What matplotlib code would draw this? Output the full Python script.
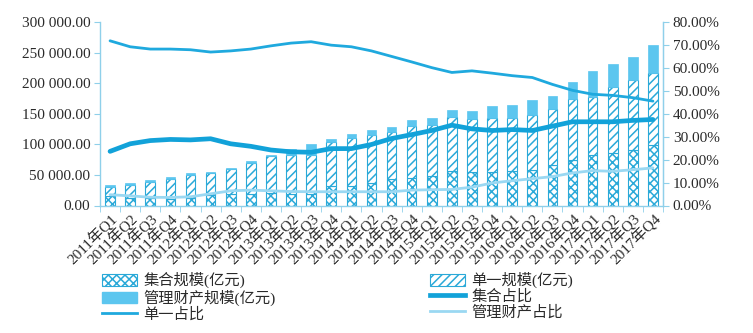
import matplotlib
matplotlib.use("Agg")
import matplotlib.pyplot as plt
from matplotlib.patches import Patch
from matplotlib.lines import Line2D
from matplotlib.ticker import FuncFormatter, FixedLocator
import numpy as np

years = ["2011", "2012", "2013", "2014", "2015", "2016", "2017"]
quarters = ["Q1", "Q2", "Q3", "Q4"]
categories = [f"{y}年{q}" for y in years for q in quarters]

# 集合规模 (亿元)
collective = [14750, 12020, 12020, 10930, 12020, 17480, 19120, 19120,
              20220, 18580, 18580, 31140, 32240, 36610, 43170, 44800,
              47540, 55730, 54090, 54640, 55730, 58460, 65570, 73760,
              83050, 85780, 91250, 99440]
# 单一规模 (亿元)
single = [15300, 20760, 26230, 32240, 38250, 34970, 39890, 50270,
          61200, 64480, 64480, 72670, 78140, 78140, 76500, 84690,
          84690, 89060, 87420, 88520, 87420, 90160, 92340, 100540,
          94530, 108190, 113650, 117480]
# 管理财产规模 (亿元)
managed = [2730, 3820, 2730, 2730, 2190, 1640, 2190, 3820,
           1640, 9290, 17480, 4370, 6010, 9290, 8740, 9840,
           10930, 11470, 12570, 19120, 20760, 23500, 21860, 27320,
           41530, 36610, 37700, 44800]

# 占比 (%)
single_pct = [71.8, 69.2, 68.2, 68.2, 67.9, 66.9, 67.4, 68.2,
              69.6, 70.8, 71.4, 69.9, 69.2, 67.4, 65.0, 62.6,
              60.1, 58.0, 58.7, 57.7, 56.6, 55.8, 52.8, 50.2,
              48.5, 48.0, 47.0, 45.5]
collective_pct = [23.6, 26.9, 28.3, 28.8, 28.6, 29.1, 26.9, 25.8,
                  24.2, 23.4, 23.2, 24.8, 24.8, 26.6, 29.2, 30.9,
                  32.7, 35.0, 33.4, 32.7, 33.1, 32.7, 34.6, 36.5,
                  36.5, 36.5, 37.1, 37.5]
managed_pct = [4.7, 4.2, 3.6, 3.5, 3.8, 5.1, 6.4, 6.7,
               6.4, 6.1, 6.0, 6.0, 6.0, 6.0, 6.0, 6.7,
               6.9, 7.0, 8.0, 9.8, 10.8, 11.7, 12.6, 14.2,
               15.2, 14.9, 15.6, 16.4]

serif_cjk = ["Liberation Serif", "Noto Sans CJK SC", "DejaVu Sans"]
plt.rcParams["font.family"] = serif_cjk
plt.rcParams["hatch.linewidth"] = 1.1

axis_col = "#8fd0ea"
hatch_col = "#2aa9d8"
cap_col = "#5cc6ef"
c_single = "#1fa9de"
c_coll = "#12a2d9"
c_man = "#9ad8f2"
text_col = "#2a2a2a"

fig = plt.figure(figsize=(7.53, 3.33), dpi=100)
ax = fig.add_axes([100 / 753, 1 - 205.5 / 333, 563 / 753, (205.5 - 22) / 333])

x = np.arange(len(categories))
coll = np.array(collective)
sing = np.array(single)
man = np.array(managed)
w = 0.48
ax.bar(x, coll, w, color="white", edgecolor=hatch_col, hatch="xxxx", linewidth=0.8, zorder=2)
ax.bar(x, sing, w, bottom=coll, color="white", edgecolor=hatch_col, hatch="////", linewidth=0.8, zorder=2)
ax.bar(x, man, w, bottom=coll + sing, color=cap_col, edgecolor=cap_col, linewidth=0.5, zorder=2)

ax.set_xlim(-0.5, len(categories) - 0.5)
ax.set_ylim(0, 300000)
ax.set_yticks(np.arange(0, 300001, 50000))
ax.yaxis.set_major_formatter(FuncFormatter(lambda v, p: f"{v:,.2f}".replace(",", " ")))
ax.set_xticks(x)
ax.set_xticklabels(categories, rotation=45, ha="right", rotation_mode="anchor",
                   fontsize=11, color=text_col)
ax.xaxis.set_minor_locator(FixedLocator(np.arange(-0.5, len(categories), 1.0)))
ax.tick_params(axis="x", which="major", length=0, pad=4)
ax.tick_params(axis="x", which="minor", length=4, color=axis_col, direction="out")
ax.tick_params(axis="y", length=4, color=axis_col, labelsize=11, labelcolor=text_col, pad=3)
for s in ["top"]:
    ax.spines[s].set_visible(False)
for s in ["left", "bottom", "right"]:
    ax.spines[s].set_color(axis_col)
    ax.spines[s].set_linewidth(1.0)

ax2 = ax.twinx()
ax2.plot(x, single_pct, color=c_single, lw=2.0, solid_capstyle="round", zorder=3)
ax2.plot(x, collective_pct, color=c_coll, lw=3.4, solid_capstyle="round", zorder=4)
ax2.plot(x, managed_pct, color=c_man, lw=2.0, solid_capstyle="round", zorder=3)
ax2.set_ylim(0, 80)
ax2.set_yticks(np.arange(0, 81, 10))
ax2.yaxis.set_major_formatter(FuncFormatter(lambda v, p: f"{v:.2f}%"))
ax2.tick_params(axis="y", length=4, color=axis_col, labelsize=11, labelcolor=text_col, pad=3)
for s in ["top", "left", "bottom"]:
    ax2.spines[s].set_visible(False)
ax2.spines["right"].set_color(axis_col)

h_coll = Patch(facecolor="white", edgecolor=hatch_col, hatch="xxxx", linewidth=0.8)
h_sing = Patch(facecolor="white", edgecolor=hatch_col, hatch="////", linewidth=0.8)
h_man = Patch(facecolor=cap_col, edgecolor=cap_col)
l_sing = Line2D([], [], color=c_single, lw=2.0)
l_coll = Line2D([], [], color=c_coll, lw=3.4)
l_man = Line2D([], [], color=c_man, lw=2.0)

leg_kw = dict(frameon=False, fontsize=11, handlelength=2.3, handleheight=0.8,
              handletextpad=0.4, labelspacing=0.1, borderaxespad=0, borderpad=0,
              labelcolor=text_col)
fig.legend([h_coll, h_man, l_sing], ["集合规模(亿元)", "管理财产规模(亿元)", "单一占比"],
           loc="upper left", bbox_to_anchor=(102 / 753, 1 - 272 / 333), **leg_kw)
fig.legend([h_sing, l_coll, l_man], ["单一规模(亿元)", "集合占比", "管理财产占比"],
           loc="upper left", bbox_to_anchor=(430 / 753, 1 - 272 / 333), **leg_kw)

fig.savefig("out.png", dpi=100)
